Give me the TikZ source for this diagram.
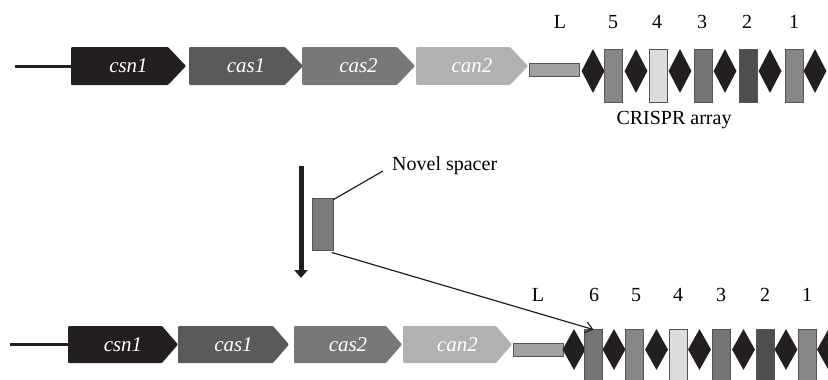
\documentclass[tikz,border=0pt]{standalone}
\usepackage{fontspec}
\setmainfont{Liberation Serif}
\usetikzlibrary{shapes.geometric,arrows.meta}
\definecolor{cCsn}{HTML}{231F20}
\definecolor{cCasA}{HTML}{5A5A5C}
\definecolor{cCasB}{HTML}{78787A}
\definecolor{cCan}{HTML}{B1B1B3}
\definecolor{cLead}{HTML}{A2A2A4}
\definecolor{cEdge}{HTML}{555557}
\definecolor{cSpA}{HTML}{87878A}
\definecolor{cSpB}{HTML}{DCDCDE}
\definecolor{cSpC}{HTML}{747476}
\definecolor{cSpD}{HTML}{4E4E50}
\definecolor{cSpN}{HTML}{7B7B7D}
\tikzset{
  genetext/.style={text=white,font=\fontsize{21}{21}\selectfont\itshape,inner sep=0},
  lbl/.style={font=\fontsize{20}{20}\selectfont,inner sep=0},
  rep/.style={diamond,fill=cCsn,minimum width=23pt,inner sep=0,draw=none},
  spc/.style={rectangle,draw=cEdge,line width=0.8pt,minimum width=18pt,inner sep=0},
  lead/.style={rectangle,draw=cEdge,fill=cLead,line width=0.8pt,inner sep=0,minimum width=50pt,minimum height=13pt},
  dnaline/.style={line width=3pt,cCsn}
}
\newcommand\genearrow[8]{% name, x0, xtip, ytop, ybot, tiplen, fill, label
  \fill[#7,rounded corners=1pt] (#2,#4) -- ({#3-#6},#4) -- (#3,{(#4+#5)/2}) -- ({#3-#6},#5) -- (#2,#5) -- cycle;
  \coordinate (#1in) at (#2,{(#4+#5)/2});
  \node[genetext] (#1) at ({(#2+#3)/2},{(#4+#5)/2}) {#8};}
\begin{document}
\begin{tikzpicture}[x=1pt,y=-1pt]
\useasboundingbox (0,0) rectangle (828,380);
\clip (0,0) rectangle (828,380);
% ---------- top row ----------
\coordinate (tStart) at (15,66);
\genearrow{tCsn}{71}{186}{47}{85}{18}{cCsn}{csn1}
\genearrow{tCasA}{189}{303}{47}{85}{18}{cCasA}{cas1}
\genearrow{tCasB}{302}{415}{47}{85}{18}{cCasB}{cas2}
\genearrow{tCan}{416}{528}{47}{85}{18}{cCan}{can2}
\draw[dnaline] (tStart) -- (tCsnin);
\node[lead] (tL) at (554,69.5) {};
\foreach \x [count=\i] in {593,636,680,725,770,815}
  \node[rep,minimum height=44pt] (tR\i) at (\x,71) {};
\node[spc,fill=cSpA,minimum height=53pt] (tS5) at (613,75.5) {};
\node[spc,fill=cSpB,minimum height=53pt] (tS4) at (658,75.5) {};
\node[spc,fill=cSpC,minimum height=53pt] (tS3) at (703,75.5) {};
\node[spc,fill=cSpD,minimum height=53pt] (tS2) at (748,75.5) {};
\node[spc,fill=cSpA,minimum height=53pt] (tS1) at (794,75.5) {};
\node[lbl] (tlL) at (560,22) {L};
\node[lbl] (tl5) at (613,22) {5};
\node[lbl] (tl4) at (657,22) {4};
\node[lbl] (tl3) at (702,22) {3};
\node[lbl] (tl2) at (747,22) {2};
\node[lbl] (tl1) at (794,22) {1};
\node[lbl] (crispr) at (674,120) {CRISPR array};
% ---------- middle ----------
\coordinate (vTop) at (301,166);
\coordinate (vBot) at (301,278);
\draw[line width=5pt,cCsn,-{Triangle[width=13pt,length=8pt]}] (vTop) -- (vBot);
\node[rectangle,draw=cEdge,fill=cSpN,line width=0.8pt,inner sep=0,minimum width=21pt,minimum height=52pt] (nov) at (322.5,224) {};
\node[lbl,anchor=west] (novtxt) at (392,166) {Novel spacer};
\coordinate (novEnd) at (383,171);
\draw[line width=1.2pt,cCsn] ([yshift=-2pt]nov.north east) -- (novEnd);
% ---------- bottom row ----------
\coordinate (bStart) at (10,344.5);
\genearrow{bCsn}{68}{178}{326}{363}{16}{cCsn}{csn1}
\genearrow{bCasA}{178}{289}{326}{363}{16}{cCasA}{cas1}
\genearrow{bCasB}{294}{402}{326}{363}{16}{cCasB}{cas2}
\genearrow{bCan}{403}{512}{326}{363}{16}{cCan}{can2}
\draw[dnaline] (bStart) -- (bCsnin);
\node[lead] (bL) at (538,349.5) {};
\foreach \x [count=\i] in {574,614,656.5,699.5,743.5,786,828.5}
  \node[rep,minimum height=41pt] (bR\i) at (\x,349.5) {};
\node[spc,fill=cSpC,minimum height=60pt] (bS6) at (593.5,359) {};
\node[spc,fill=cSpA,minimum height=60pt] (bS5) at (634.5,359) {};
\node[spc,fill=cSpB,minimum height=60pt] (bS4) at (678.5,359) {};
\node[spc,fill=cSpC,minimum height=60pt] (bS3) at (721.5,359) {};
\node[spc,fill=cSpD,minimum height=60pt] (bS2) at (765.5,359) {};
\node[spc,fill=cSpA,minimum height=60pt] (bS1) at (807,359) {};
\node[lbl] (blL) at (538,295) {L};
\node[lbl] (bl6) at (594,295) {6};
\node[lbl] (bl5) at (636,295) {5};
\node[lbl] (bl4) at (678,295) {4};
\node[lbl] (bl3) at (721,295) {3};
\node[lbl] (bl2) at (765,295) {2};
\node[lbl] (bl1) at (807,295) {1};
\draw[line width=1.2pt,cCsn,-{Straight Barb[length=7pt,width=11pt]}] ([shift={(20,2)}]nov.south west) -- ([yshift=-1pt]bS6.north);
\end{tikzpicture}
\end{document}
